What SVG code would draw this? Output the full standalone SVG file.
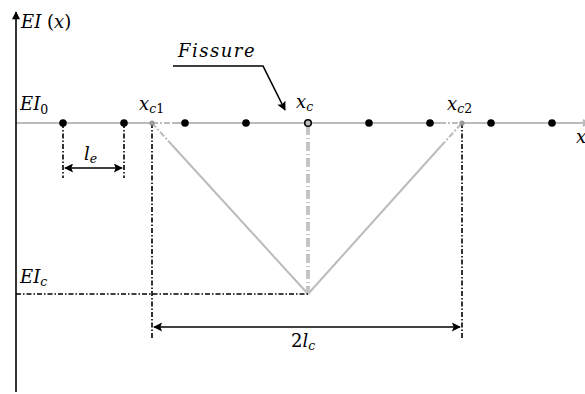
<svg xmlns="http://www.w3.org/2000/svg" width="585" height="394" viewBox="0 0 585 394">
<style>
text{font-family:"DejaVu Serif","Liberation Serif",serif;font-style:italic;font-size:18px;fill:#000}
.up{font-style:normal}
.sub{font-size:12.5px}
.dd{stroke:#000;stroke-width:1.6;fill:none;stroke-dasharray:5 2 1.5 2}
.gray{stroke:#bbb;stroke-width:2;fill:none}
.dot{fill:#000}
.blk{stroke:#000;stroke-width:1.6;fill:none}
</style>
<defs>
<marker id="ah" viewBox="0 0 10 10" refX="9" refY="5" markerWidth="10" markerHeight="8" markerUnits="userSpaceOnUse" orient="auto-start-reverse">
<path d="M0,0 L10,5 L0,10 Z" fill="#000"/>
</marker>
<marker id="ahb" viewBox="0 0 10 10" refX="9" refY="5" markerWidth="13" markerHeight="9" markerUnits="userSpaceOnUse" orient="auto-start-reverse">
<path d="M0,0 L10,5 L0,10 L2,5 Z" fill="#000"/>
</marker>
<marker id="ahg" viewBox="0 0 10 10" refX="9" refY="5" markerWidth="9" markerHeight="8" markerUnits="userSpaceOnUse" orient="auto">
<path d="M0,0 L10,5 L0,10 Z" fill="#bbb"/>
</marker>
</defs>
<g id="connectors">
<line class="gray" x1="16" y1="123" x2="152" y2="123"/>
<line class="gray" x1="152" y1="123" x2="172" y2="123" stroke-dasharray="6 2 2 2"/>
<line class="gray" x1="172" y1="123" x2="440" y2="123"/>
<line class="gray" x1="440" y1="123" x2="462" y2="123" stroke-dasharray="6 2 2 2"/>
<line class="gray" x1="462" y1="123" x2="590" y2="123" marker-end="url(#ahg)"/>
<line class="gray" x1="152" y1="123" x2="172" y2="145" stroke-dasharray="6 2 2 2"/>
<line class="gray" x1="172" y1="145" x2="308" y2="294"/>
<line class="gray" x1="308" y1="294" x2="441" y2="146"/>
<line class="gray" x1="441" y1="146" x2="462" y2="123" stroke-dasharray="6 2 2 2"/>
<line x1="308" y1="126" x2="308" y2="294" stroke="#c4c4c4" stroke-width="4" stroke-dasharray="9 3 1 3"/>
<line class="blk" x1="16" y1="392" x2="16" y2="12" stroke-width="2" marker-end="url(#ah)"/>
<line class="dd" x1="63" y1="123" x2="63" y2="178"/>
<line class="dd" x1="124" y1="123" x2="124" y2="178"/>
<line class="dd" x1="152" y1="123" x2="152" y2="338"/>
<line class="dd" x1="462" y1="123" x2="462" y2="338"/>
<line class="dd" x1="16" y1="294" x2="308" y2="294"/>
<line class="blk" x1="65" y1="168" x2="122" y2="168" marker-start="url(#ahb)" marker-end="url(#ahb)"/>
<line class="blk" x1="154" y1="327" x2="460" y2="327" marker-start="url(#ahb)" marker-end="url(#ahb)"/>
<polyline class="blk" stroke-width="1.2" points="173,66 263,66 285,110" marker-end="url(#ahb)"/>
</g>
<g id="points">
<circle class="dot" cx="63" cy="123" r="3.8"/>
<circle class="dot" cx="124" cy="123" r="3.8"/>
<circle class="dot" cx="185" cy="123" r="3.8"/>
<circle class="dot" cx="246" cy="123" r="3.8"/>
<circle cx="308" cy="123" r="3.3" fill="#bbb" stroke="#000" stroke-width="1.5"/>
<circle class="dot" cx="369" cy="123" r="3.8"/>
<circle class="dot" cx="430" cy="123" r="3.8"/>
<circle class="dot" cx="491" cy="123" r="3.8"/>
<circle class="dot" cx="552" cy="123" r="3.8"/>
<circle cx="152" cy="123" r="2.6" fill="#999"/>
<circle cx="462" cy="123" r="2.6" fill="#999"/>
</g>
<g id="labels">
<text x="21" y="28">EI <tspan class="up">(</tspan>x<tspan class="up">)</tspan></text>
<text x="20" y="110">EI<tspan class="sub up" dy="4">0</tspan></text>
<text x="139" y="110">x<tspan class="sub" dy="3">c</tspan><tspan class="sub up">1</tspan></text>
<text x="296" y="108">x<tspan class="sub" dy="3">c</tspan></text>
<text x="447" y="110">x<tspan class="sub" dy="3">c</tspan><tspan class="sub up">2</tspan></text>
<text x="576" y="143">x</text>
<text x="84" y="160">l<tspan class="sub" dy="3">e</tspan></text>
<text x="20" y="283">EI<tspan class="sub" dy="3">c</tspan></text>
<text x="291" y="347"><tspan class="up">2</tspan>l<tspan class="sub" dy="3">c</tspan></text>
<text x="178" y="57" letter-spacing="1.5">Fissure</text>
</g>
</svg>
